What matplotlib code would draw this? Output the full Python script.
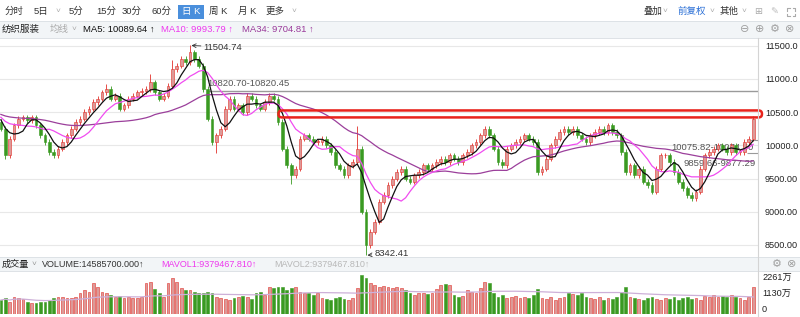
import numpy as np
import pandas as pd
import matplotlib
matplotlib.use("Agg")
import matplotlib.pyplot as plt
from matplotlib.patches import Rectangle, FancyBboxPatch
from matplotlib.lines import Line2D

plt.rcParams['font.family'] = ['Liberation Sans', 'Noto Sans CJK SC', 'DejaVu Sans']

# daily closes (index points)
closes = [
    10250, 9850, 10100, 10300, 10400, 10420, 10380, 10420, 10300, 10150,
    10050, 9900, 9850, 9950, 10050, 10150, 10250, 10350, 10400, 10500,
    10550, 10650, 10700, 10800, 10850, 10700, 10750, 10550, 10600, 10700,
    10750, 10800, 10820, 10850, 10950, 10800, 10700, 10750, 10900, 11150,
    11200, 11300, 11250, 11400, 11300, 11200, 10850, 10400, 10050, 10150,
    10250, 10550, 10700, 10550, 10600, 10500, 10750, 10700, 10600, 10550,
    10650, 10750, 10700, 10350, 9950, 9700, 9550, 9650, 10100, 10150,
    10100, 10050, 10050, 10100, 10000, 9900, 9700, 9650, 9550, 9700,
    9750, 9950, 9000, 8500, 8700, 8850, 9150, 9250, 9400, 9500,
    9600, 9650, 9500, 9450, 9550, 9600, 9700, 9650, 9700, 9750,
    9800, 9750, 9850, 9800, 9750, 9850, 9900, 10000, 10050, 10150,
    10250, 10150, 9950, 9750, 9700, 9950, 10000, 10050, 10100, 10150,
    10100, 10050, 9600, 9650, 9800, 10000, 10100, 10200, 10250, 10200,
    10250, 10150, 10100, 10050, 10150, 10200, 10250, 10200, 10300, 10200,
    10150, 9900, 9600, 9700, 9550, 9650, 9450, 9400, 9300, 9650,
    9850, 9850, 9750, 9600, 9450, 9350, 9250, 9200, 9300, 9650,
    9850, 9900, 9950, 10000, 9950, 9900, 10000, 9900, 9900, 10050,
    10100, 10400,
]
# closes before the visible window (only feed the moving averages)
prior_closes = [10650, 10600, 10580, 10620, 10550, 10500, 10480, 10520, 10450, 10400,
                10380, 10420, 10470, 10500, 10530, 10480, 10430, 10400, 10350, 10380,
                10420, 10460, 10500, 10520, 10480, 10450, 10420, 10460, 10500, 10480,
                10440, 10400, 10350]
first_open = 10350
# extreme wicks that are labelled / clearly visible
high_marks = {43: 11504.74, 81: 10286, 34: 11080, 39: 11280, 24: 10930}
low_marks = {83: 8342.41, 49: 9880, 66: 9420, 1: 9800}
wick = 40

# volume in 10k shares (万)
volumes = [
    774, 864, 684, 954, 864, 810, 684, 630, 594, 648, 684, 774,
    864, 918, 954, 864, 900, 954, 1170, 1314, 1224, 1710, 1494,
    1224, 1134, 1044, 954, 990, 864, 954, 900, 864, 954,
    1674, 1764, 1350, 1134, 954, 1674, 1944, 1764, 1404, 1314,
    1314, 1224, 1134, 1170, 1224, 1134, 954, 864, 810, 774, 864, 954, 990, 918, 810,
    1170, 1224, 1044, 1458, 1440, 1458, 1458, 1314, 1404, 1494, 1224,
    1134, 1170, 1044, 1134, 864, 810, 774, 864, 918, 810, 774, 864,
    1404, 2124, 1944, 1710, 1584, 1494, 1530, 1494, 1404, 1458,
    1404, 1314, 1134, 1044, 1170, 1134, 1098, 1170, 1350, 1584, 1620, 1584,
    1044, 954, 990, 1314, 1224, 1170, 1404, 1728, 1674,
    1134, 954, 1044, 864, 954, 990, 900, 954, 864, 1044, 1350,
    864, 810, 918, 774, 864, 954, 1134, 1080, 1044, 1134, 918,
    864, 810, 954, 774, 864, 810, 954, 1224, 1458,
    954, 864, 810, 774, 864, 918, 810, 774, 864,
    810, 918, 774, 864, 954, 810, 864, 774,
    990, 954, 1044, 918, 990, 954, 1044, 954, 864, 774, 918, 1458,
]

price_ticks = [8500, 9000, 9500, 10000, 10500, 11000, 11500]
price_labels = ['8500.00', '9000.00', '9500.00', '10000.0', '10500.0', '11000.0', '11500.0']
line_level = 10820.6
zone_low, zone_high = 10420, 10525

# ---- derived series ----
close = np.array(closes, dtype=float)
open_ = np.concatenate([[first_open], close[:-1]])
high = np.maximum(open_, close) + wick
low = np.minimum(open_, close) - wick
for k, v in high_marks.items():
    high[k] = v
for k, v in low_marks.items():
    low[k] = v
x = np.arange(len(close))
allc = pd.Series(prior_closes + closes, dtype=float)
n0 = len(prior_closes)
ma5 = allc.rolling(5).mean().values[n0:]
ma10 = allc.rolling(10).mean().values[n0:]
ma34 = allc.rolling(34).mean().values[n0:]
vol = np.array(volumes, dtype=float)
mavol = pd.Series(vol).rolling(60, min_periods=1).mean().values
up = close >= open_

RED, PINK, GREEN = '#e2302a', '#dc9a98', '#3a9a22'

W, H = 800, 317
fig = plt.figure(figsize=(8, 3.17), dpi=100)


def fx(px):
    return px / W


def fy(py):
    return 1 - py / H


def ftext(px, py, s, **kw):
    kw.setdefault('va', 'center')
    kw.setdefault('fontsize', 6.8)
    kw.setdefault('color', '#333333')
    fig.text(fx(px), fy(py), s, **kw)


def fline(xs, ys, **kw):
    fig.add_artist(Line2D([fx(v) for v in xs], [fy(v) for v in ys], **kw))


# header bands
fig.patches.append(Rectangle((0, fy(37.5)), 1, (37.5 - 21) / H, transform=fig.transFigure,
                             facecolor='#f2f5f7', edgecolor='none', zorder=0))
fig.patches.append(Rectangle((0, fy(271)), 1, (271 - 257) / H, transform=fig.transFigure,
                             facecolor='#f2f5f7', edgecolor='none', zorder=0))
for yy in (20.5, 37.5, 256.5, 271):
    fline([0, W], [yy, yy], color='#dde2e6', lw=0.7)
fline([758, 758], [38, H], color='#d4d4d4', lw=0.8)

# toolbar
tabs = [(5, '分时'), (34, '5日'), (69, '5分'), (96, '15分'), (122, '30分'), (151, '60分'),
        (209, '周 K'), (238, '月 K'), (266, '更多')]
for px, s in tabs:
    ftext(px, 11.5, s)
for px in (56, 292):
    ftext(px, 12, '˅', color='#aaaaaa', fontsize=6)
fig.patches.append(Rectangle((fx(178), fy(18.5)), 26 / W, 13.5 / H, transform=fig.transFigure,
                             facecolor='#4a8fdc', edgecolor='none'))
ftext(191, 11.5, '日 K', color='white', ha='center')
ftext(643, 11.5, '叠加')
ftext(663, 12, '˅', color='#aaaaaa', fontsize=6)
ftext(677, 11.5, '前复权', color='#2a6fd6')
ftext(710, 12, '˅', color='#aaaaaa', fontsize=6)
ftext(720, 11.5, '其他')
ftext(742, 12, '˅', color='#aaaaaa', fontsize=6)
ftext(758, 11.5, '⊞', color='#aaaaaa', family='DejaVu Sans', ha='center')
ftext(774, 11.5, '✎', color='#bbbbbb', family='DejaVu Sans', ha='center')
# full-screen icon: four little corners
for cx, cy, dx, dy in [(787, 8, 1, 1), (795, 8, -1, 1), (787, 16, 1, -1), (795, 16, -1, -1)]:
    fline([cx, cx, cx + 2.5 * dx], [cy + 2.5 * dy, cy, cy], color='#aaaaaa', lw=0.8)

# MA header
ftext(2, 29.5, '纺织服装', color='#222222')
ftext(50, 29.5, '均线', color='#aaaaaa')
ftext(72, 30, '˅', color='#aaaaaa', fontsize=6)
ftext(83, 29.5, 'MA5: %.2f ↑' % 10089.64, color='#111111')
ftext(161, 29.5, 'MA10: %.2f ↑' % 9993.79, color='#ee38ee')
ftext(242, 29.5, 'MA34: %.2f ↑' % 9704.81, color='#9a3a9a')
for px, s in [(745, '⊖'), (760, '⊕'), (775, '⚙'), (790, '⊗')]:
    ftext(px, 29.5, s, color='#a0a0a0', family='DejaVu Sans', ha='center', fontsize=8)

# ---- price panel ----
ax = fig.add_axes([0, fy(256), 758 / W, (256 - 38) / H])
ax.set_xlim(-0.2, 172.1)
ax.set_ylim(8333, 11616)
for s in ax.spines.values():
    s.set_visible(False)
ax.set_xticks([])
ax.yaxis.tick_right()
ax.set_yticks(price_ticks)
ax.set_yticklabels(price_labels)
ax.tick_params(axis='y', length=0, pad=5, labelsize=6.6, labelcolor='#222222')
ax.grid(axis='y', color='#e8e8e8', lw=0.8)
ax.set_axisbelow(True)

ax.hlines(line_level, 47, 172.1, color='#9a9a9a', lw=1, zorder=1)
ax.text(47, 10938, '10820.70-10820.45', fontsize=6.8, color='#555555', va='center', zorder=1)
ax.hlines([10075, 9877], 169.5, 172.1, color='#9a9a9a', lw=0.8, zorder=1)
ax.text(152.5, 9960, '10075.82-10074.50', fontsize=6.8, color='#555555', va='center', zorder=1)
ax.text(155.1, 9733, '9859.66-9877.29', fontsize=6.8, color='#555555', va='center', zorder=1)

ax.vlines(x, low, high, colors=np.where(up, RED, GREEN), lw=0.6, zorder=2)
body_lo = np.minimum(open_, close)
body_h = np.maximum(np.abs(close - open_), 8)
ax.bar(x, body_h, bottom=body_lo, width=0.62, color=np.where(up, PINK, GREEN),
       edgecolor=np.where(up, RED, GREEN), lw=0.4, zorder=3)

ax.plot(x, ma34, color='#9b3f9b', lw=0.9, zorder=4)
ax.plot(x, ma10, color='#f04cf0', lw=0.9, zorder=4)
ax.plot(x, ma5, color='#111111', lw=0.9, zorder=5)

zone = FancyBboxPatch((63.1, zone_low), 173.0 - 63.1, zone_high - zone_low,
                      boxstyle='round,pad=0,rounding_size=0.8', mutation_aspect=60,
                      facecolor='none', edgecolor='#e8231c', lw=1.8, clip_on=False, zorder=6)
ax.add_patch(zone)

imax = int(np.argmax(high))
imin = int(np.argmin(low))
ax.annotate('%.2f' % high[imax], xy=(imax, high[imax]), xytext=(46.1, 11480),
            fontsize=6.8, color='#333333', va='center',
            arrowprops=dict(arrowstyle='->', color='#333333', lw=0.6, shrinkA=0, shrinkB=1))
ax.annotate('%.2f' % low[imin], xy=(imin, low[imin]), xytext=(84.9, 8378),
            fontsize=6.8, color='#333333', va='center', annotation_clip=False,
            arrowprops=dict(arrowstyle='->', color='#333333', lw=0.6, shrinkA=0, shrinkB=1))

# ---- volume panel ----
ftext(2, 264, '成交量', color='#222222', fontsize=6.6)
ftext(32, 264.5, '˅', color='#999999', fontsize=6)
ftext(42, 264, 'VOLUME:14585700.000↑', color='#333333', fontsize=6.5)
ftext(161, 264, 'MAVOL1:9379467.810↑', color='#ee38ee', fontsize=6.5)
ftext(274, 264, 'MAVOL2:9379467.810↑', color='#b8b8b8', fontsize=6.5)
ftext(777, 264, '⚙', color='#a0a0a0', family='DejaVu Sans', ha='center', fontsize=8)
ftext(792, 264, '⊗', color='#a0a0a0', family='DejaVu Sans', ha='center', fontsize=8)

vax = fig.add_axes([0, fy(314.3), 758 / W, (314.3 - 271.5) / H])
vax.set_xlim(-0.2, 172.1)
vax.set_ylim(0, 2320)
vax.axis('off')
vax.bar(x, vol, width=0.62, color=np.where(up, PINK, GREEN),
        edgecolor=np.where(up, RED, GREEN), lw=0.4)
vax.plot(x, mavol, color='#cdb0d8', lw=0.9)
ftext(762, 277, '2261万', color='#222222', fontsize=6.6)
ftext(762, 293.5, '1130万', color='#222222', fontsize=6.6)
ftext(762, 310, '0', color='#222222', fontsize=6.6)

fig.savefig('out.png', dpi=100, facecolor='white')
